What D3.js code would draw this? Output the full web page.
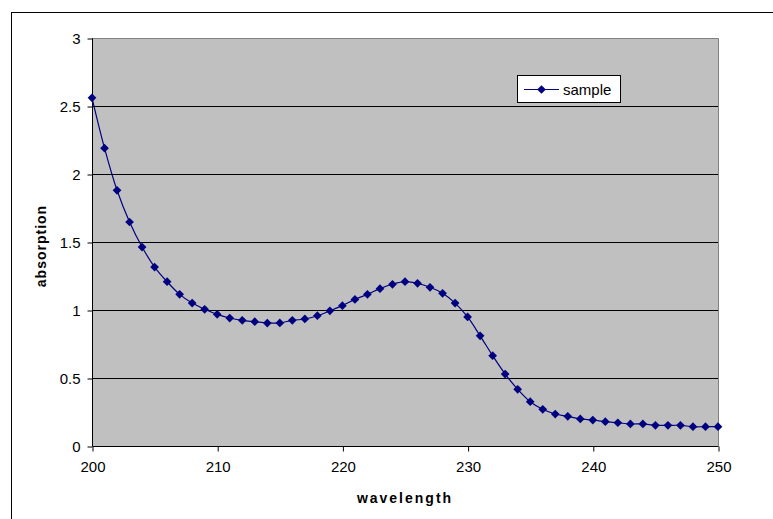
<!DOCTYPE html>
<html>
<head>
<meta charset="utf-8">
<script src="https://cdn.jsdelivr.net/npm/d3@7"></script>
<style>
  body { margin: 0; background: #fff; }
  svg { display: block; font-family: "Liberation Sans", Arial, sans-serif; }
</style>
</head>
<body>
<svg id="chart" width="773" height="519"></svg>
<script>
// wavelength (nm) and absorption
var wavelength = [200,201,202,203,204,205,206,207,208,209,
                  210,211,212,213,214,215,216,217,218,219,
                  220,221,222,223,224,225,226,227,228,229,
                  230,231,232,233,234,235,236,237,238,239,
                  240,241,242,243,244,245,246,247,248,249,250];
var absorption = [2.56,2.19,1.88,1.647,1.463,1.316,1.208,1.115,1.051,1.005,
                  0.968,0.941,0.924,0.914,0.904,0.905,0.924,0.934,0.958,0.994,
                  1.032,1.078,1.115,1.157,1.189,1.208,1.196,1.167,1.123,1.051,
                  0.949,0.81,0.664,0.529,0.417,0.326,0.27,0.235,0.218,0.199,
                  0.191,0.179,0.171,0.162,0.162,0.152,0.152,0.152,0.142,0.142,0.142];
var xTicks = [200,210,220,230,240,250];
var yTicks = [0,0.5,1,1.5,2,2.5,3];
var seriesName = "sample";

var svg = d3.select("#chart");
// plot area edges (note: "top" is reserved on window, so pl/pr/pt/pb)
var pl = 92, pr = 718, pt = 38, pb = 446;

var x = d3.scaleLinear().domain([200,250]).range([pl,pr]);
var y = d3.scaleLinear().domain([0,3]).range([pb,pt]);

// outer chart frame
svg.append("rect")
    .attr("x",11.5).attr("y",12.5)
    .attr("width",800).attr("height",560)
    .attr("fill","#fff").attr("stroke","#000");

// plot area
svg.append("rect")
    .attr("x",pl).attr("y",pt)
    .attr("width",pr-pl).attr("height",pb-pt)
    .attr("fill","#c0c0c0");

// gridlines
svg.append("g").selectAll("line")
    .data(yTicks.filter(function(d){ return d>0 && d<3; }))
    .enter().append("line")
    .attr("x1",pl).attr("x2",pr)
    .attr("y1",function(d){ return Math.round(y(d))+0.5; })
    .attr("y2",function(d){ return Math.round(y(d))+0.5; })
    .attr("stroke","#000");

// plot border (top/right)
svg.append("path")
    .attr("d","M"+pl+","+(pt+0.5)+"H"+(pr+0.5)+"V"+pb)
    .attr("fill","none").attr("stroke","#808080");

// axes
var yAxis = svg.append("g")
    .attr("transform","translate("+(pl+0.5)+",0.5)")
    .call(d3.axisLeft(y).tickValues(yTicks).tickSize(5).tickPadding(7)
        .tickFormat(function(d){ return d; }));
var xAxis = svg.append("g")
    .attr("transform","translate(0.5,"+(pb+0.5)+")")
    .call(d3.axisBottom(x).tickValues(xTicks).tickSize(5).tickPadding(10)
        .tickFormat(d3.format("d")));
[yAxis,xAxis].forEach(function(a){
    a.select(".domain").attr("stroke","#000");
    a.selectAll(".tick line").attr("stroke","#000");
    a.selectAll("text").attr("fill","#000")
        .style("font-size","15px")
        .style("font-family","'Liberation Sans', Arial, sans-serif");
});
yAxis.select(".domain").attr("d","M0,"+pt+"V"+pb);
xAxis.select(".domain").attr("d","M"+pl+",0H"+pr);

// data line
var pts = wavelength.map(function(w,i){ return [w,absorption[i]]; });
var line = d3.line()
    .x(function(d){ return x(d[0]); })
    .y(function(d){ return y(d[1]); })
    .curve(d3.curveCatmullRom.alpha(0.5));
svg.append("path")
    .datum(pts)
    .attr("d",line)
    .attr("fill","none")
    .attr("stroke","#000080")
    .attr("stroke-width",1.2);

var diamond = d3.symbol().type(d3.symbolSquare).size(38);
svg.append("g").selectAll("path")
    .data(pts)
    .enter().append("path")
    .attr("d",diamond)
    .attr("transform",function(d){ return "translate("+x(d[0])+","+y(d[1])+") rotate(45)"; })
    .attr("fill","#000080");

// axis titles
svg.append("text")
    .attr("x",405).attr("y",503)
    .attr("text-anchor","middle")
    .style("font-size","14px").style("font-weight","bold")
    .style("letter-spacing","2px")
    .text("wavelength");
svg.append("text")
    .attr("transform","translate(46,246) rotate(-90)")
    .attr("text-anchor","middle")
    .style("font-size","14px").style("font-weight","bold")
    .style("letter-spacing","1px")
    .text("absorption");

// legend
var lg = svg.append("g").attr("transform","translate(517,75)");
lg.append("rect")
    .attr("x",0.5).attr("y",0.5).attr("width",103).attr("height",27)
    .attr("fill","#fff").attr("stroke","#000");
lg.append("line")
    .attr("x1",7).attr("x2",42).attr("y1",14.5).attr("y2",14.5)
    .attr("stroke","#000080");
lg.append("path")
    .attr("d",diamond)
    .attr("transform","translate(24.5,14.5) rotate(45)")
    .attr("fill","#000080");
lg.append("text")
    .attr("x",46).attr("y",19.5)
    .style("font-size","15px")
    .text(seriesName);
</script>
</body>
</html>
